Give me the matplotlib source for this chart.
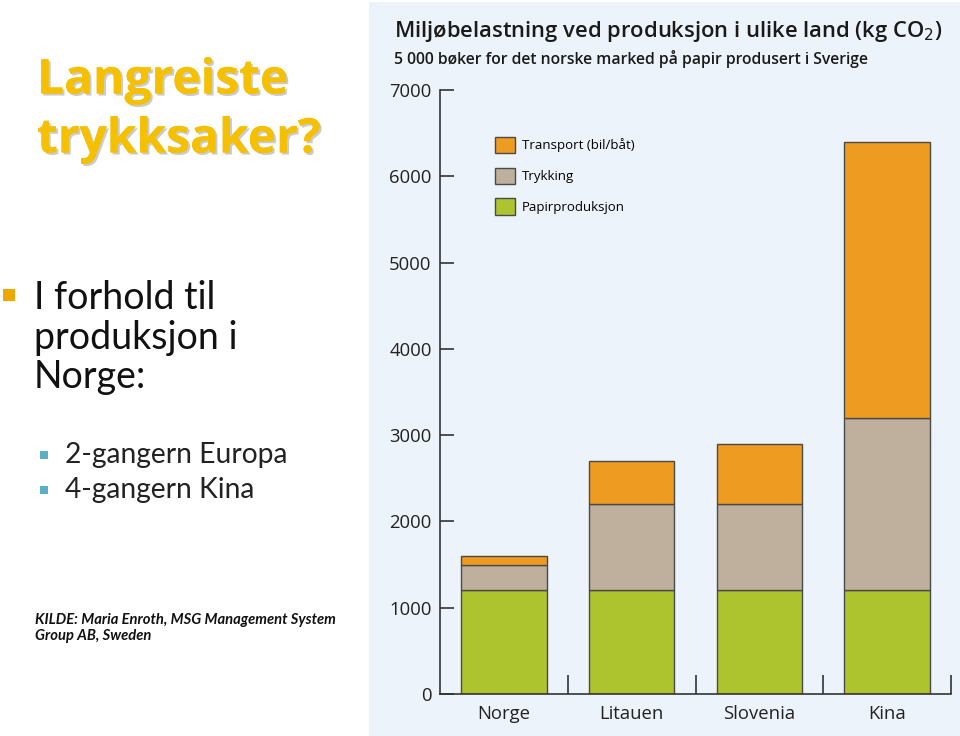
import matplotlib
matplotlib.use('Agg')
import matplotlib.pyplot as plt
from matplotlib.patches import Rectangle, Patch
import matplotlib.patheffects as pe

land = ['Norge', 'Litauen', 'Slovenia', 'Kina']
papir = [1200, 1200, 1200, 1200]
trykking = [300, 1000, 1000, 2000]
transport = [100, 500, 700, 3200]
yticks = [0, 1000, 2000, 3000, 4000, 5000, 6000, 7000]

c_transport = '#EE9B22'
c_trykk = '#BEB09C'
c_papir = '#ADC42E'
edge = '#4a4a4a'

W, H = 960, 736
fig = plt.figure(figsize=(9.6, 7.36), dpi=100)
fig.patch.set_facecolor('white')

def fx(px):
    return px / W

def fy(py):
    return 1 - py / H

# light blue chart panel
fig.patches.append(Rectangle((fx(369), 0), fx(960) - fx(369), fy(2), transform=fig.transFigure,
                             facecolor='#EDF3FA', edgecolor='none', zorder=-5))

# left slide text
shadow = [pe.withSimplePatchShadow(offset=(1.5, -1.5), shadow_rgbFace='#999999', alpha=0.5), pe.Normal()]
fig.text(fx(37), fy(81), 'Langreiste', fontsize=34.5, fontweight='bold', family='Open Sans',
         color='#F5C000', va='center', ha='left', path_effects=shadow)
fig.text(fx(37), fy(140), 'trykksaker?', fontsize=34.5, fontweight='bold', family='Open Sans',
         color='#F5C000', va='center', ha='left', path_effects=shadow)

fig.patches.append(Rectangle((fx(3), fy(301)), fx(12), 12 / H, transform=fig.transFigure,
                             facecolor='#F0A800', edgecolor='none'))
for i, line in enumerate(['I forhold til', 'produksjon i', 'Norge:']):
    fig.text(fx(34), fy(298 + 39.5 * i), line, fontsize=27, family='Lato', color='#111111',
             va='center', ha='left')

for yy, line in [(455, '2-gangern Europa'), (490, '4-gangern Kina')]:
    fig.patches.append(Rectangle((fx(40), fy(yy + 4)), fx(8), 8 / H, transform=fig.transFigure,
                                 facecolor='#5BB0C8', edgecolor='none'))
    fig.text(fx(65), fy(yy), line, fontsize=20.3, family='Lato', color='#222222', va='center', ha='left')

fig.text(fx(35), fy(620), 'KILDE: Maria Enroth, MSG Management System', fontsize=10.6, family='Lato',
         style='italic', fontweight='bold', color='#111111', va='center', ha='left')
fig.text(fx(35), fy(636), 'Group AB, Sweden', fontsize=10.6, family='Lato',
         style='italic', fontweight='bold', color='#111111', va='center', ha='left')

# chart titles
fig.text(fx(394), fy(31), 'Miljøbelastning ved produksjon i ulike land (kg CO$_2$)', fontsize=15.8,
         family='Open Sans', fontweight='semibold', color='#1a1a1a', va='center', ha='left')
fig.text(fx(394), fy(59), '5 000 bøker for det norske marked på papir produsert i Sverige', fontsize=11.3,
         family='Open Sans', fontweight='semibold', color='#1a1a1a', va='center', ha='left')

ax = fig.add_axes([fx(440), fy(694), fx(951) - fx(440), fy(90) - fy(694)])
ax.set_facecolor('none')

x = [i + 0.5 for i in range(len(land))]
bw = 0.67
bottom2 = [p for p in papir]
bottom3 = [p + t for p, t in zip(papir, trykking)]
ax.bar(x, papir, bw, color=c_papir, edgecolor=edge, linewidth=1)
ax.bar(x, trykking, bw, bottom=bottom2, color=c_trykk, edgecolor=edge, linewidth=1)
ax.bar(x, transport, bw, bottom=bottom3, color=c_transport, edgecolor=edge, linewidth=1)

ax.set_xlim(0, 4)
ax.set_ylim(0, 7000)
ax.set_yticks(yticks)
ax.set_yticklabels([str(v) for v in yticks], fontsize=13.3, family='Open Sans', color='#222222')
ax.tick_params(axis='y', direction='in', length=10, width=1.2, color='#333333', pad=6)
ax.set_xticks(x)
ax.set_xticklabels(land, fontsize=13.3, family='Open Sans', color='#222222')
ax.tick_params(axis='x', which='major', length=0, pad=8)
ax.set_xticks([1, 2, 3, 4], minor=True)
ax.tick_params(axis='x', which='minor', direction='in', length=14, width=1.2, color='#333333')
for s in ['top', 'right']:
    ax.spines[s].set_visible(False)
for s in ['left', 'bottom']:
    ax.spines[s].set_color('#333333')
    ax.spines[s].set_linewidth(1.2)

handles = [Patch(facecolor=c_transport, edgecolor=edge, label='Transport (bil/båt)'),
           Patch(facecolor=c_trykk, edgecolor=edge, label='Trykking'),
           Patch(facecolor=c_papir, edgecolor=edge, label='Papirproduksjon')]
leg = fig.legend(handles=handles, loc='upper left', bbox_to_anchor=(fx(483), fy(125)),
                 frameon=False, prop={'family': 'Open Sans', 'size': 9.5},
                 handlelength=1.52, handleheight=1.52, labelspacing=1.1, handletextpad=0.55)

fig.savefig('out.png', dpi=100)
